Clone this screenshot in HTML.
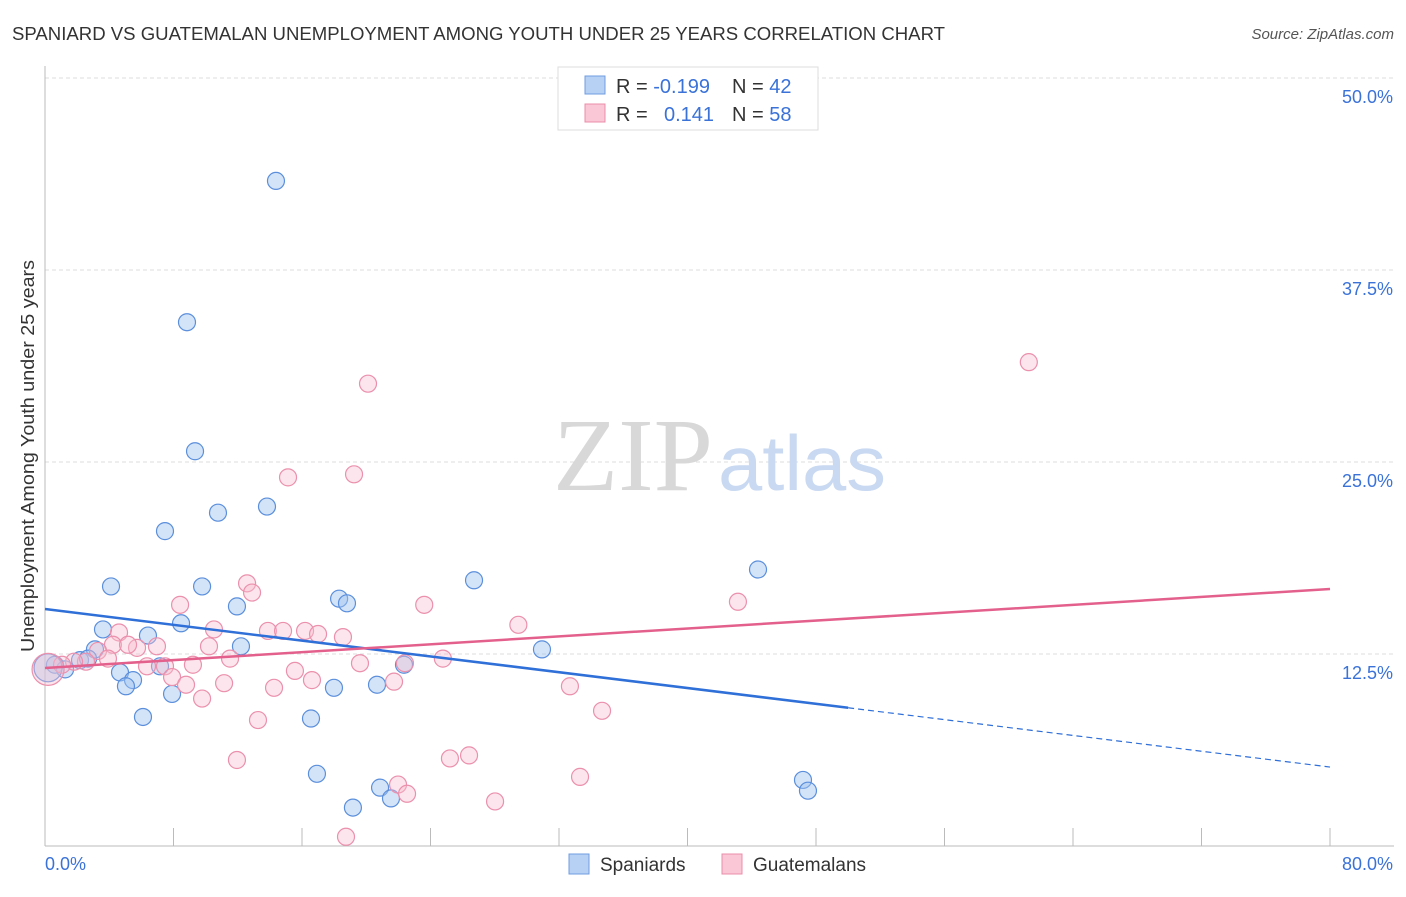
<!DOCTYPE html>
<html><head><meta charset="utf-8">
<style>
body{margin:0;background:#fff;font-family:"Liberation Sans",sans-serif;}
svg text{font-family:"Liberation Sans",sans-serif;}
</style></head>
<body>
<svg id="chart" width="1406" height="892" viewBox="0 0 1406 892" xmlns="http://www.w3.org/2000/svg">
<text x="12" y="40" font-size="18" fill="#333" textLength="933" lengthAdjust="spacingAndGlyphs">SPANIARD VS GUATEMALAN UNEMPLOYMENT AMONG YOUTH UNDER 25 YEARS CORRELATION CHART</text>
<text x="1394" y="39" font-size="15" fill="#555" font-style="italic" text-anchor="end">Source: ZipAtlas.com</text>
<g id="grid"></g>
<g>
<text x="553" y="490" font-size="104" fill="#d8d8d8" textLength="160" lengthAdjust="spacingAndGlyphs" style="font-family:'Liberation Serif',serif">ZIP</text>
<text x="718" y="490" font-size="78" fill="#c9d9f1" textLength="168" lengthAdjust="spacingAndGlyphs">atlas</text>
</g>
<g id="points"></g>
<g id="lines"></g>
<text transform="translate(34,456) rotate(-90)" font-size="18" fill="#333" text-anchor="middle" textLength="392" lengthAdjust="spacingAndGlyphs">Unemployment Among Youth under 25 years</text>
<text x="45" y="870" font-size="18" fill="#3a72d8">0.0%</text>
<text x="1393" y="870" font-size="18" fill="#3a72d8" text-anchor="end">80.0%</text>
<g>
<rect x="558" y="67" width="260" height="63" fill="#fff" stroke="#ddd"/>
<rect x="585" y="76" width="20" height="18" fill="#b7d1f5" stroke="#6f9de0"/>
<rect x="585" y="104" width="20" height="18" fill="#f9c7d6" stroke="#eb8daa"/>
<text x="616" y="93" font-size="20" fill="#333">R = <tspan fill="#3a72d8">-0.199</tspan></text>
<text x="732" y="93" font-size="20" fill="#333">N = <tspan fill="#3a72d8">42</tspan></text>
<text x="616" y="121" font-size="20" fill="#333">R = </text>
<text x="664" y="121" font-size="20" fill="#3a72d8">0.141</text>
<text x="732" y="121" font-size="20" fill="#333">N = <tspan fill="#3a72d8">58</tspan></text>
</g>
<g>
<rect x="569" y="854" width="20" height="20" fill="#b7d1f5" stroke="#6f9de0"/>
<text x="600" y="871" font-size="19" fill="#333">Spaniards</text>
<rect x="722" y="854" width="20" height="20" fill="#f9c7d6" stroke="#eb8daa"/>
<text x="753" y="871" font-size="19" fill="#333">Guatemalans</text>
</g>
</svg>
<script>
const yTicks=[12.5,25,37.5,50];
const yTickLabels=["12.5%","25.0%","37.5%","50.0%"];
const xTicks=[0,8,16,24,32,40,48,56,64,72,80];
const blueX=[14.38,8.84,9.34,13.82,10.77,7.47,26.71,44.39,4.11,9.78,18.31,18.80,11.95,8.47,3.61,6.41,3.11,12.20,30.94,2.18,2.68,22.35,7.16,0.62,1.25,4.67,5.48,5.04,7.91,17.99,20.67,6.10,16.56,16.93,20.86,21.54,19.17,47.19,47.50,0.19];
const blueY=[43.3,34.1,25.7,22.1,21.7,20.5,17.3,18.0,16.9,16.9,16.1,15.8,15.6,14.5,14.1,13.7,12.8,13.0,12.8,12.1,12.2,11.8,11.7,11.8,11.5,11.3,10.8,10.4,9.9,10.3,10.5,8.4,8.3,4.7,3.8,3.1,2.5,4.3,3.6,11.6];
const pinkX=[61.25,20.11,19.24,15.13,12.58,12.89,43.14,8.41,23.61,29.47,10.52,13.88,14.82,16.19,17.0,18.55,4.61,6.97,5.73,4.23,5.17,10.21,3.30,3.92,11.52,24.77,19.61,22.41,9.21,7.47,6.35,15.56,2.55,1.81,1.06,7.91,16.62,21.73,11.15,8.78,14.26,32.68,9.78,34.68,13.26,11.95,25.21,26.40,21.98,22.54,33.31,28.02,18.74,0.19];
const pinkY=[31.5,30.1,24.2,24.0,17.1,16.5,15.9,15.7,15.7,14.4,14.1,14.0,14.0,14.0,13.8,13.6,13.9,13.0,12.9,13.1,13.1,13.0,12.7,12.2,12.2,12.2,11.9,11.9,11.8,11.7,11.7,11.4,12.0,12.0,11.8,11.0,10.8,10.7,10.6,10.5,10.3,10.4,9.6,8.8,8.2,5.6,5.7,5.9,4.0,3.4,4.5,2.9,0.6,11.5];
const blueTrend=[15.43,5.14];
const blueSolidEnd=50;
const pinkTrend=[11.59,16.73];
const X0=45,X1=1330,Y0=846,YPX=15.36;
const sx=v=>X0+(X1-X0)*v/80;
const sy=v=>Y0-v*YPX;
const NS="http://www.w3.org/2000/svg";
function mk(t,a,p){const e=document.createElementNS(NS,t);for(const k in a)e.setAttribute(k,a[k]);p.appendChild(e);return e;}
const grid=document.getElementById('grid');
yTicks.forEach((t,i)=>{
  const l=mk('line',{x1:X0,x2:1394,y1:sy(t),y2:sy(t),stroke:'#ddd','stroke-dasharray':'4,3'},grid);
  
  
  const tx=mk('text',{x:1393,y:sy(t)+25,'font-size':18,fill:'#3a72d8','text-anchor':'end'},grid);
  tx.textContent=yTickLabels[i];
  
  
});
const ax=mk('line',{x1:X0,x2:X0,y1:66,y2:Y0,stroke:'#bbb'},grid);


const bx=mk('line',{x1:X0,x2:1394,y1:Y0,y2:Y0,stroke:'#bbb'},grid);


xTicks.forEach(t=>{
  const l=mk('line',{x1:sx(t),x2:sx(t),y1:Y0-18,y2:Y0,stroke:'#bbb'},grid);
  
  
});
const pts=document.getElementById('points');
blueX.forEach((x,i)=>{
  const r=i===blueX.length-1?14:8.5;
  const c=mk('circle',{cx:sx(x),cy:sy(blueY[i]),r:r,fill:'rgba(160,196,240,0.45)',stroke:'#5b8fdc','stroke-width':1.2},pts);
  
  
});
pinkX.forEach((x,i)=>{
  const r=i===pinkX.length-1?16:8.5;
  const c=mk('circle',{cx:sx(x),cy:sy(pinkY[i]),r:r,fill:'rgba(248,190,208,0.4)',stroke:'#eb90ad','stroke-width':1.2},pts);
  
  
});
const lines=document.getElementById('lines');
const by=x=>blueTrend[0]+(blueTrend[1]-blueTrend[0])*x/80;
const bl=mk('line',{x1:sx(0),y1:sy(by(0)),x2:sx(blueSolidEnd),y2:sy(by(blueSolidEnd)),stroke:'#2f6fd8','stroke-width':2.5},lines);


const bd=mk('line',{x1:sx(blueSolidEnd),y1:sy(by(blueSolidEnd)),x2:sx(80),y2:sy(by(80)),stroke:'#2f6fd8','stroke-width':1.2,'stroke-dasharray':'6,4'},lines);


const pl=mk('line',{x1:sx(0),y1:sy(pinkTrend[0]),x2:sx(80),y2:sy(pinkTrend[1]),stroke:'#e4608c','stroke-width':2.5},lines);


</script>
</body></html>
